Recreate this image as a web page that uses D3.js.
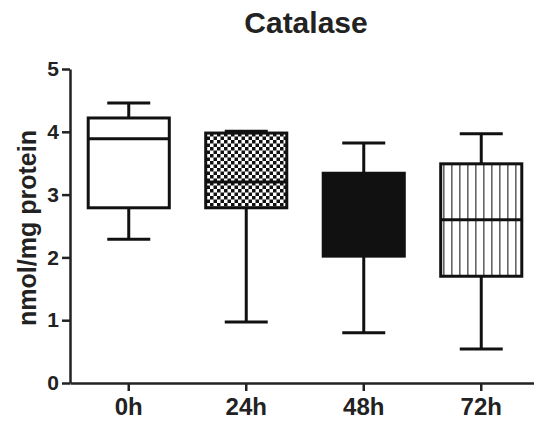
<!DOCTYPE html>
<meta charset="utf-8">
<script src="https://d3js.org/d3.v7.min.js"></script>
<style>
body { margin: 0; background: #fff; }
text { font-family: "Liberation Sans", Arial, sans-serif; font-weight: bold; fill: #222; }
</style>
<div id="my_dataviz"></div>
<script>
// values (nmol/mg protein)
var groups = ["0h", "24h", "48h", "72h"];
var whiskerLow = [2.29, 0.97, 0.80, 0.54];
var q1 = [2.79, 2.79, 2.02, 1.70];
var median = [3.89, 3.20, 2.60, 2.60];
var q3 = [4.22, 3.98, 3.34, 3.49];
var whiskerHigh = [4.46, 4.01, 3.82, 3.97];
var yTicks = [0, 1, 2, 3, 4, 5];

var W = 534, H = 421;
var svg = d3.select("#my_dataviz")
  .append("svg")
    .attr("width", W)
    .attr("height", H);

// fill patterns
var defs = svg.append("defs");
var checker = defs.append("pattern")
    .attr("id", "checker")
    .attr("patternUnits", "userSpaceOnUse")
    .attr("width", 7).attr("height", 7);
checker.append("rect").attr("width", 7).attr("height", 7).attr("fill", "#fff");
checker.append("rect").attr("width", 3.5).attr("height", 3.5).attr("fill", "#111");
checker.append("rect").attr("x", 3.5).attr("y", 3.5).attr("width", 3.5).attr("height", 3.5).attr("fill", "#111");

var vlines = defs.append("pattern")
    .attr("id", "vlines")
    .attr("patternUnits", "userSpaceOnUse")
    .attr("width", 8).attr("height", 8);
vlines.append("rect").attr("width", 8).attr("height", 8).attr("fill", "#fff");
vlines.append("rect").attr("x", 3).attr("width", 1.6).attr("height", 8).attr("fill", "#666");

var fills = {"0h": "#fff", "24h": "url(#checker)", "48h": "#111", "72h": "url(#vlines)"};

var x = d3.scaleBand()
  .domain(groups)
  .range([70, 540])
  .paddingInner(0.31)
  .paddingOuter(0.155);

var y = d3.scaleLinear()
  .domain([0, 5])
  .range([383, 69]);

// axes
var yAxis = svg.append("g")
  .attr("transform", "translate(70,0)")
  .call(d3.axisLeft(y).tickValues(yTicks).tickFormat(d3.format("d"))
    .tickSize(8).tickSizeOuter(0).tickPadding(3));
yAxis.selectAll("text").style("font-size", "21px").style("font-family", "Liberation Sans, Arial").style("font-weight", "bold").attr("fill", "#222");

var xAxis = svg.append("g")
  .attr("transform", "translate(0,383)")
  .call(d3.axisBottom(x).tickSize(8).tickSizeOuter(0).tickPadding(7));
xAxis.selectAll("text").style("font-size", "24px").style("font-family", "Liberation Sans, Arial").style("font-weight", "bold").attr("fill", "#222");

svg.selectAll(".domain, .tick line")
  .attr("stroke", "#222")
  .attr("stroke-width", 2.5);

// boxes
var data = groups.map(function(g, i) {
  return {g: g, lo: whiskerLow[i], q1: q1[i], med: median[i], q3: q3[i], hi: whiskerHigh[i]};
});
var capW = 43;

var box = svg.append("g").selectAll("g")
  .data(data)
  .enter()
  .append("g");

box.append("line")
  .attr("x1", function(d) { return x(d.g) + x.bandwidth() / 2; })
  .attr("x2", function(d) { return x(d.g) + x.bandwidth() / 2; })
  .attr("y1", function(d) { return y(d.lo); })
  .attr("y2", function(d) { return y(d.q1); })
  .attr("stroke", "#111").attr("stroke-width", 3);
box.append("line")
  .attr("x1", function(d) { return x(d.g) + x.bandwidth() / 2; })
  .attr("x2", function(d) { return x(d.g) + x.bandwidth() / 2; })
  .attr("y1", function(d) { return y(d.q3); })
  .attr("y2", function(d) { return y(d.hi); })
  .attr("stroke", "#111").attr("stroke-width", 3);
// caps
["lo", "hi"].forEach(function(k) {
  box.append("line")
    .attr("x1", function(d) { return x(d.g) + x.bandwidth() / 2 - capW / 2; })
    .attr("x2", function(d) { return x(d.g) + x.bandwidth() / 2 + capW / 2; })
    .attr("y1", function(d) { return y(d[k]); })
    .attr("y2", function(d) { return y(d[k]); })
    .attr("stroke", "#111").attr("stroke-width", 3);
});

box.append("rect")
  .attr("x", function(d) { return x(d.g); })
  .attr("width", x.bandwidth())
  .attr("y", function(d) { return y(d.q3); })
  .attr("height", function(d) { return y(d.q1) - y(d.q3); })
  .attr("fill", function(d) { return fills[d.g]; })
  .attr("stroke", "#111")
  .attr("stroke-width", 3);

box.append("line")
  .attr("x1", function(d) { return x(d.g); })
  .attr("x2", function(d) { return x(d.g) + x.bandwidth(); })
  .attr("y1", function(d) { return y(d.med); })
  .attr("y2", function(d) { return y(d.med); })
  .attr("stroke", "#111").attr("stroke-width", 3);

// titles
svg.append("text")
  .attr("x", 306)
  .attr("y", 33)
  .attr("text-anchor", "middle")
  .style("font-size", "30px")
  .text("Catalase");

svg.append("text")
  .attr("transform", "translate(36,228) rotate(-90)")
  .attr("text-anchor", "middle")
  .style("font-size", "25px")
  .text("nmol/mg protein");
</script>
